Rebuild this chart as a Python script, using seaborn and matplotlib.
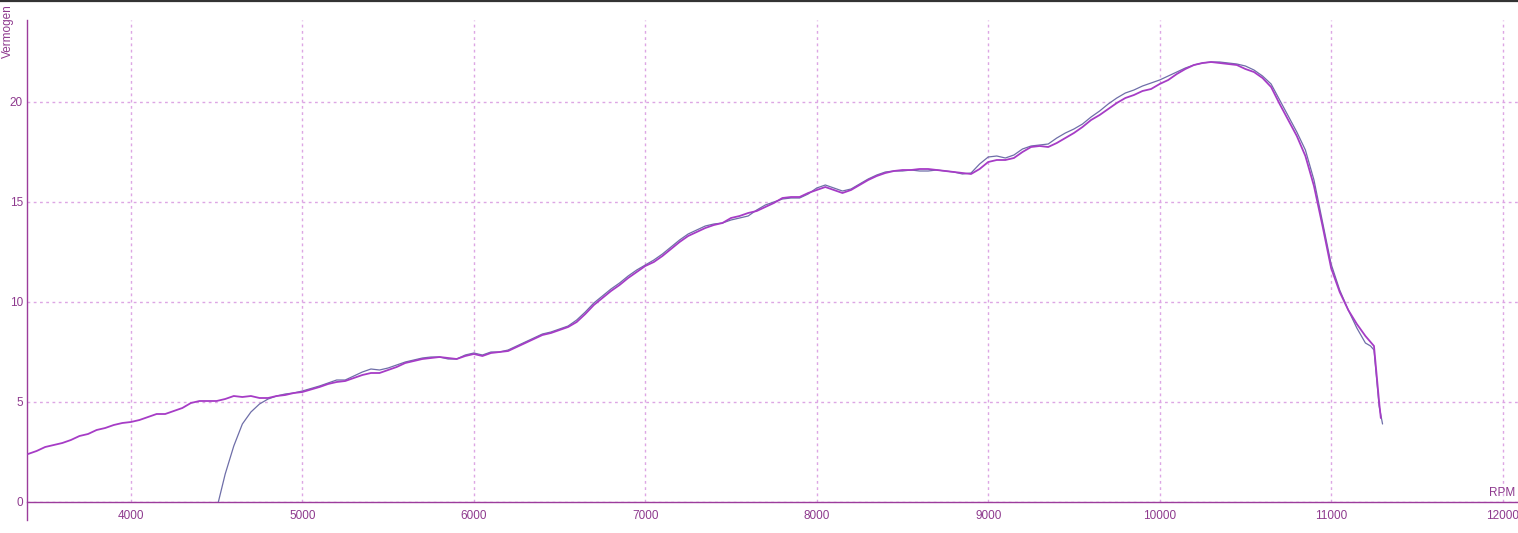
import matplotlib
matplotlib.use("Agg")
import matplotlib.pyplot as plt
from matplotlib.lines import Line2D
from matplotlib.ticker import MultipleLocator, FixedLocator
import seaborn as sns
import pandas as pd

# ---- data ----
rpm_a = [3400, 3450, 3500, 3550, 3600, 3650, 3700, 3750, 3800, 3850, 3900, 3950,
         4000, 4050, 4100, 4150, 4200, 4250, 4300, 4350, 4400, 4450, 4500, 4550,
         4600, 4650, 4700, 4750, 4800, 4850, 4900, 4950, 5000, 5100, 5150, 5200,
         5250, 5300, 5350, 5400, 5450, 5500, 5550, 5600, 5650, 5700, 5750, 5800,
         5850, 5900, 5950, 6000, 6050, 6100, 6150, 6200, 6250, 6300, 6350, 6400,
         6450, 6500, 6550, 6600, 6650, 6700, 6750, 6800, 6850, 6900, 6950, 7000,
         7050, 7100, 7150, 7200, 7250, 7300, 7350, 7400, 7450, 7500, 7550, 7600,
         7650, 7700, 7750, 7800, 7850, 7900, 7950, 8000, 8050, 8100, 8150, 8200,
         8250, 8300, 8350, 8400, 8450, 8500, 8550, 8600, 8650, 8700, 8750, 8800,
         8850, 8900, 8950, 9000, 9050, 9100, 9150, 9200, 9250, 9300, 9350, 9400,
         9450, 9500, 9550, 9600, 9650, 9700, 9750, 9800, 9850, 9900, 9950, 10000,
         10050, 10100, 10150, 10200, 10250, 10300, 10350, 10400, 10450, 10500,
         10550, 10600, 10650, 10700, 10750, 10800, 10850, 10900, 10950, 11000,
         11050, 11100, 11150, 11200, 11230, 11250, 11265, 11280, 11290]
power_a = [2.4, 2.55, 2.75, 2.85, 2.95, 3.1, 3.3, 3.4, 3.6, 3.7, 3.85, 3.95,
           4.0, 4.1, 4.25, 4.4, 4.4, 4.55, 4.7, 4.95, 5.05, 5.05, 5.05, 5.15,
           5.3, 5.25, 5.3, 5.2, 5.2, 5.3, 5.35, 5.45, 5.5, 5.75, 5.9, 6.0,
           6.05, 6.2, 6.35, 6.45, 6.45, 6.6, 6.75, 6.95, 7.05, 7.15, 7.2, 7.25,
           7.2, 7.15, 7.3, 7.4, 7.3, 7.45, 7.5, 7.55, 7.75, 7.95, 8.15, 8.35,
           8.45, 8.6, 8.75, 9.0, 9.4, 9.85, 10.2, 10.55, 10.85, 11.2, 11.5, 11.8,
           12.0, 12.3, 12.65, 13.0, 13.3, 13.5, 13.7, 13.85, 13.95, 14.2, 14.3, 14.45,
           14.55, 14.75, 14.95, 15.2, 15.25, 15.25, 15.45, 15.6, 15.75, 15.6, 15.45, 15.6,
           15.85, 16.1, 16.3, 16.45, 16.55, 16.6, 16.6, 16.65, 16.65, 16.6, 16.55, 16.5,
           16.45, 16.4, 16.65, 17.0, 17.1, 17.1, 17.2, 17.5, 17.75, 17.8, 17.75, 17.95,
           18.2, 18.45, 18.75, 19.1, 19.35, 19.65, 19.95, 20.2, 20.35, 20.55, 20.65, 20.9,
           21.1, 21.4, 21.65, 21.85, 21.95, 22.0, 21.95, 21.9, 21.85, 21.65,
           21.5, 21.2, 20.75, 19.9, 19.1, 18.3, 17.3, 15.8, 13.8, 11.7,
           10.5, 9.6, 8.9, 8.3, 8.0, 7.8, 6.4, 5.0, 4.2]

rpm_b = [4510, 4550, 4600, 4650, 4700, 4750, 4800, 4850, 4900, 4950, 5000, 5100,
         5150, 5200, 5250, 5300, 5350, 5400, 5450, 5500, 5550, 5600, 5650, 5700,
         5750, 5800, 5850, 5900, 5950, 6000, 6050, 6100, 6150, 6200, 6250, 6300,
         6350, 6400, 6450, 6500, 6550, 6600, 6650, 6700, 6750, 6800, 6850, 6900,
         6950, 7000, 7050, 7100, 7150, 7200, 7250, 7300, 7350, 7400, 7450, 7500,
         7550, 7600, 7650, 7700, 7750, 7800, 7850, 7900, 7950, 8000, 8050, 8100,
         8150, 8200, 8250, 8300, 8350, 8400, 8450, 8500, 8550, 8600, 8650, 8700,
         8750, 8800, 8850, 8900, 8950, 9000, 9050, 9100, 9150, 9200, 9250, 9300,
         9350, 9400, 9450, 9500, 9550, 9600, 9650, 9700, 9750, 9800, 9850, 9900,
         9950, 10000, 10050, 10100, 10150, 10200, 10250, 10300, 10350, 10400,
         10450, 10500, 10550, 10600, 10650, 10700, 10750, 10800, 10850, 10900,
         10950, 11000, 11050, 11100, 11150, 11200, 11230, 11250, 11265, 11280, 11300]
power_b = [0.0, 1.4, 2.8, 3.9, 4.5, 4.9, 5.15, 5.3, 5.4, 5.45, 5.55, 5.8,
           5.95, 6.1, 6.1, 6.3, 6.5, 6.65, 6.6, 6.7, 6.85, 7.0, 7.1, 7.2,
           7.25, 7.25, 7.15, 7.15, 7.35, 7.45, 7.35, 7.5, 7.5, 7.6, 7.8, 8.0,
           8.2, 8.4, 8.5, 8.65, 8.8, 9.1, 9.5, 9.95, 10.3, 10.65, 10.95, 11.3,
           11.6, 11.85, 12.1, 12.4, 12.75, 13.1, 13.4, 13.6, 13.8, 13.9, 13.95, 14.1,
           14.2, 14.3, 14.6, 14.85, 15.0, 15.15, 15.2, 15.2, 15.4, 15.7, 15.85, 15.7,
           15.55, 15.65, 15.9, 16.15, 16.35, 16.5, 16.55, 16.55, 16.6, 16.55, 16.55, 16.6,
           16.55, 16.5, 16.4, 16.45, 16.9, 17.25, 17.3, 17.2, 17.35, 17.65, 17.8, 17.85,
           17.9, 18.2, 18.45, 18.65, 18.9, 19.25, 19.55, 19.9, 20.2, 20.45, 20.6, 20.8,
           20.95, 21.1, 21.3, 21.5, 21.7, 21.85, 21.95, 22.0, 22.0, 21.95,
           21.9, 21.8, 21.6, 21.3, 20.9, 20.1, 19.3, 18.5, 17.6, 16.1,
           14.0, 11.9, 10.6, 9.6, 8.7, 7.95, 7.8, 7.6, 6.2, 4.8, 3.9]

x_ticks = [4000, 5000, 6000, 7000, 8000, 9000, 10000, 11000, 12000]
y_ticks = [0, 5, 10, 15, 20]
x_label = "RPM"
y_label = "Vermogen"

# ---- style ----
sns.set_style("white")
plt.rcParams['font.family'] = ['Liberation Sans', 'DejaVu Sans']

AXC = "#9C3C9C"
TXT = "#8E3A8E"
GRID = "#DDA6E4"
C_A = "#A63CC6"
C_B = "#6E6EA8"

W, H = 1518, 533
fig = plt.figure(figsize=(W / 100, H / 100), dpi=100)
fig.patch.set_facecolor("white")
left_px, right_px, top_px, bot_px = 27, 1518, 20, 502
ax = fig.add_axes([left_px / W, (H - bot_px) / H,
                   (right_px - left_px) / W, (bot_px - top_px) / H])

df_b = pd.DataFrame({"RPM": rpm_b, "Vermogen": power_b})
df_a = pd.DataFrame({"RPM": rpm_a, "Vermogen": power_a})
sns.lineplot(data=df_b, x="RPM", y="Vermogen", ax=ax, color=C_B,
             linewidth=0.9, estimator=None, sort=False, zorder=3)
sns.lineplot(data=df_a, x="RPM", y="Vermogen", ax=ax, color=C_A,
             linewidth=1.3, estimator=None, sort=False, zorder=4)

ax.set_xlim(3394, 12090)
ax.set_ylim(0, 24.1)

ax.xaxis.set_major_locator(FixedLocator(x_ticks))
ax.xaxis.set_minor_locator(MultipleLocator(200))
ax.yaxis.set_major_locator(FixedLocator(y_ticks))

ax.grid(True, which="major", color=GRID, linestyle=(0, (2, 2.5)), linewidth=1.0)
ax.set_axisbelow(True)

for s in ["top", "right"]:
    ax.spines[s].set_visible(False)
ax.spines["left"].set_color(AXC)
ax.spines["bottom"].set_color(AXC)
ax.spines["left"].set_linewidth(1.0)
ax.spines["bottom"].set_linewidth(1.0)
ax.spines["left"].set_bounds(-0.9, 24.1)

ax.tick_params(axis="x", which="both", direction="out", length=3, width=0.8,
               color=AXC, labelcolor=TXT, labelsize=8.5, pad=3)
ax.tick_params(axis="y", which="both", length=0, labelcolor=TXT,
               labelsize=8.5, pad=3)
ax.set_xlabel("")
ax.set_ylabel("")

ax.text(12000, 0.15, x_label, color=TXT, fontsize=8.5, ha="center", va="bottom")
fig.text(8 / W, (H - 4) / H, y_label, color=TXT, fontsize=8.5,
         rotation=90, ha="center", va="top")

fig.add_artist(Line2D([0, 1], [1 - 1 / H, 1 - 1 / H], color="#333333",
                      linewidth=1.6, transform=fig.transFigure))

fig.savefig("out.png", dpi=100, facecolor="white")
